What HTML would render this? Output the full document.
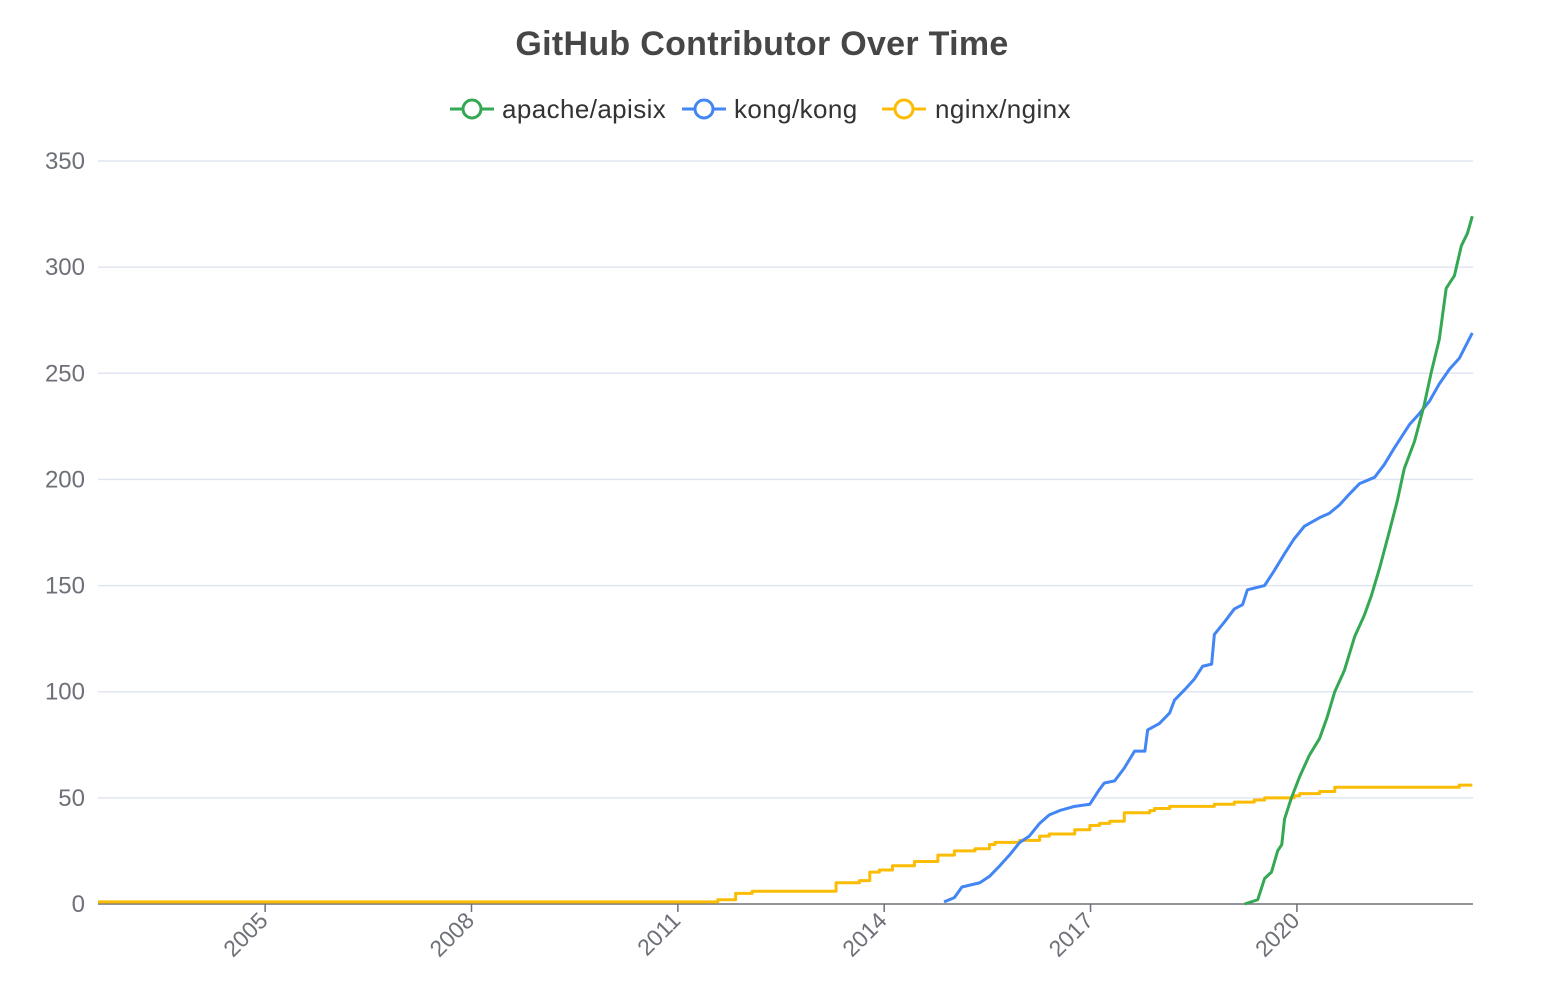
<!DOCTYPE html>
<html><head><meta charset="utf-8"><style>
html,body{margin:0;padding:0;background:#fff;}
svg{display:block;font-family:"Liberation Sans","DejaVu Sans",sans-serif;}
</style></head><body>
<svg id="chart" width="1556" height="990" viewBox="0 0 1556 990" xmlns="http://www.w3.org/2000/svg">
<text x="762" y="55" text-anchor="middle" font-size="34" font-weight="bold" fill="#464646" letter-spacing="0.3">GitHub Contributor Over Time</text>
<g font-size="26" fill="#333" letter-spacing="0.4">
 <g>
  <line x1="450" y1="109" x2="494" y2="109" stroke="#34a853" stroke-width="3"/><circle cx="472" cy="109" r="9" fill="#fff" stroke="#34a853" stroke-width="3"/>
  <text x="502" y="118">apache/apisix</text></g>
 <g>
  <line x1="682" y1="109" x2="726" y2="109" stroke="#4285f4" stroke-width="3"/><circle cx="704" cy="109" r="9" fill="#fff" stroke="#4285f4" stroke-width="3"/>
  <text x="734" y="118">kong/kong</text></g>
 <g>
  <line x1="882" y1="109" x2="926" y2="109" stroke="#fbbc05" stroke-width="3"/><circle cx="904" cy="109" r="9" fill="#fff" stroke="#fbbc05" stroke-width="3"/>
  <text x="935" y="118">nginx/nginx</text></g>
</g>
<g id="grid"></g><g id="axes"></g><g id="series"></g>
</svg>
<script>
const yTicks=[0,50,100,150,200,250,300,350];
const xTicks=[2005,2008,2011,2014,2017,2020];
const apisixYears=[2019.24,2019.43,2019.53,2019.63,2019.72,2019.78,2019.82,2019.92,2020.04,2020.18,2020.33,2020.44,2020.55,2020.69,2020.84,2020.98,2021.08,2021.20,2021.34,2021.46,2021.56,2021.71,2021.85,2021.95,2022.07,2022.17,2022.29,2022.39,2022.48,2022.55];
const apisixValues=[0,2,12,15,25,28,40,50,60,70,78,88,100,110,126,136,145,158,175,190,205,218,235,250,266,290,296,310,316,324];
const kongYears=[2014.87,2015.02,2015.13,2015.39,2015.53,2015.68,2015.82,2015.97,2016.11,2016.26,2016.40,2016.55,2016.77,2016.99,2017.13,2017.20,2017.35,2017.49,2017.64,2017.79,2017.83,2018.00,2018.15,2018.22,2018.37,2018.51,2018.63,2018.76,2018.80,2018.95,2019.09,2019.21,2019.28,2019.53,2019.67,2019.82,2019.96,2020.11,2020.33,2020.47,2020.62,2020.76,2020.91,2021.13,2021.27,2021.42,2021.64,2021.78,2021.93,2022.07,2022.22,2022.36,2022.55];
const kongValues=[1,3,8,10,13,18,23,29,32,38,42,44,46,47,54,57,58,64,72,72,82,85,90,96,101,106,112,113,127,133,139,141,148,150,157,165,172,178,182,184,188,193,198,201,207,215,226,231,237,245,252,257,269];
const nginxYears=[2002.57,2011.58,2011.84,2012.08,2013.30,2013.64,2013.79,2013.93,2014.12,2014.44,2014.78,2015.02,2015.32,2015.53,2015.61,2015.97,2016.26,2016.40,2016.77,2016.99,2017.13,2017.28,2017.49,2017.86,2017.93,2018.15,2018.80,2019.09,2019.38,2019.53,2019.96,2020.04,2020.33,2020.55,2022.36,2022.55];
const nginxValues=[1,2,5,6,10,11,15,16,18,20,23,25,26,28,29,30,32,33,35,37,38,39,43,44,45,46,47,48,49,50,51,52,53,55,56,56];

const NS="http://www.w3.org/2000/svg";
const L=98,R=1473,T=161,B=904;
const X0=2002.57,X1=2022.56,YMAX=350;
const xs=v=>L+(v-X0)/(X1-X0)*(R-L);
const ys=v=>B-v/YMAX*(B-T);
function mk(tag,attrs,parent){const e=document.createElementNS(NS,tag);for(const k in attrs)e.setAttribute(k,attrs[k]);parent.appendChild(e);return e;}
const grid=document.getElementById('grid'),axes=document.getElementById('axes'),series=document.getElementById('series');
yTicks.forEach(t=>{
 const y=ys(t);
 if(t>0){const g=mk('line',{x1:L,x2:R,y1:y,y2:y,stroke:'#e0e6f1','stroke-width':1.5},grid);
 
 }
 const lb=mk('text',{x:85,y:y+8,'text-anchor':'end','font-size':24,fill:'#6e7079'},axes);
 lb.textContent=t;
 
 
});
const ax=mk('line',{x1:L,x2:R,y1:B,y2:B,stroke:'#6e7079','stroke-width':1.5},axes);


xTicks.forEach(t=>{
 const x=xs(t);
 const tk=mk('line',{x1:x,x2:x,y1:B,y2:B+8,stroke:'#6e7079','stroke-width':1.5},axes);
 
 
 const lb=mk('text',{x:x+4,y:B+18,'text-anchor':'end','font-size':23,fill:'#6e7079',transform:`rotate(-45 ${x+4} ${B+18})`},axes);
 lb.textContent=t;
 
 
});
function drawLine(years,vals,color,name,step){
 let d='';
 years.forEach((yr,i)=>{
  const x=xs(yr),y=ys(vals[i]);
  if(i===0)d+=`M${x},${y}`;
  else if(step)d+=`H${x}V${y}`;
  else d+=`L${x},${y}`;
 });
 const p=mk('path',{d:d,fill:'none',stroke:color,'stroke-width':3,'stroke-linejoin':'round'},series);
 
 
}
drawLine(nginxYears,nginxValues,'#fbbc05','nginx-line',true);
drawLine(kongYears,kongValues,'#4285f4','kong-line',false);
drawLine(apisixYears,apisixValues,'#34a853','apisix-line',false);
</script>
</body></html>
